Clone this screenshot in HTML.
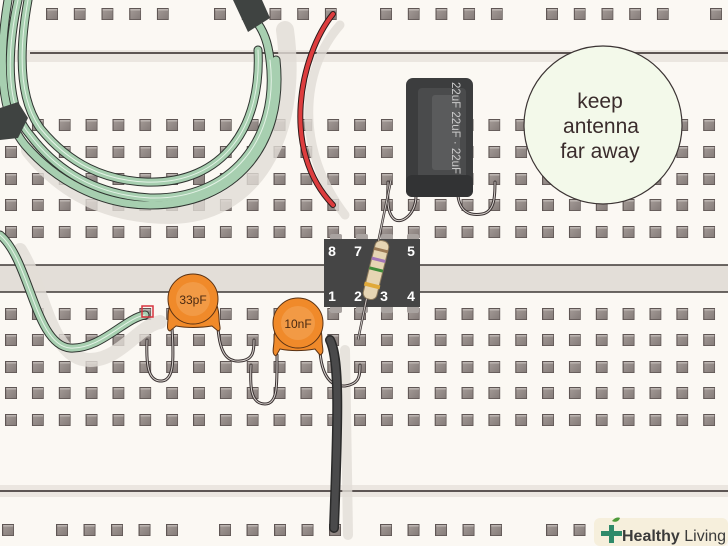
<!DOCTYPE html>
<html><head><meta charset="utf-8"><style>
html,body{margin:0;padding:0;background:#fbf8f3;}
svg{display:block;}
</style></head><body>
<svg id="s" width="728" height="546" viewBox="0 0 728 546" xmlns="http://www.w3.org/2000/svg">
<defs>
<linearGradient id="hg" x1="0" y1="0" x2="1" y2="1"><stop offset="0" stop-color="#a39a96"/><stop offset="1" stop-color="#857c79"/></linearGradient>
<symbol id="h" viewBox="0 0 12 12"><rect x="0" y="0" width="12" height="12" fill="#5f5654"/><rect x="1.2" y="1.2" width="10" height="10" fill="url(#hg)"/><rect x="1.2" y="1.2" width="10" height="1.2" fill="#c9c2be"/></symbol>
</defs>
<rect width="728" height="546" fill="#fbf8f3"/>
<rect x="0" y="50" width="728" height="12" fill="#ebe6e0"/>
<line x1="30" y1="53" x2="728" y2="53" stroke="#5d5553" stroke-width="2"/>
<rect x="0" y="265" width="728" height="27" fill="#e3ded8"/>
<line x1="0" y1="265" x2="728" y2="265" stroke="#3e3836" stroke-width="1.5"/>
<line x1="0" y1="292" x2="728" y2="292" stroke="#3e3836" stroke-width="1.5"/>
<rect x="0" y="485" width="728" height="12" fill="#ebe6e0"/>
<line x1="0" y1="491" x2="728" y2="491" stroke="#5d5553" stroke-width="2"/>
<g id="holes"></g>

<g fill="none" stroke="#e2ddd7" stroke-linecap="round" opacity="0.8">
<path d="M30,150 C70,200 120,215 170,215 C250,215 300,140 285,30" stroke-width="18"/>
<path d="M20,250 C45,290 50,360 90,360 C120,360 140,325 160,322" stroke-width="14"/>
<path d="M340,25 C300,70 295,150 345,215" stroke-width="9"/>
<path d="M345,350 L348,535" stroke-width="10"/>
</g>

<g fill="none" stroke-linecap="round">
<g stroke="#2f3430" stroke-width="9">
<path d="M18,0 C5,60 8,110 30,135 C60,175 100,195 150,198 C230,200 280,140 270,60 C268,40 262,28 255,20"/>
<path d="M8,0 C-2,60 0,115 25,145 C55,180 100,205 150,205 C235,205 285,145 276,60"/>
<path d="M28,0 C18,55 20,100 40,128 C70,165 105,180 145,182 C225,185 262,125 258,50"/>
<path d="M0,235 C30,260 35,345 70,348 C100,350 125,318 145,315"/>
</g>
<g stroke="#a7cfb0" stroke-width="7">
<path d="M18,0 C5,60 8,110 30,135 C60,175 100,195 150,198 C230,200 280,140 270,60 C268,40 262,28 255,20"/>
<path d="M8,0 C-2,60 0,115 25,145 C55,180 100,205 150,205 C235,205 285,145 276,60"/>
<path d="M28,0 C18,55 20,100 40,128 C70,165 105,180 145,182 C225,185 262,125 258,50"/>
<path d="M0,235 C30,260 35,345 70,348 C100,350 125,318 145,315"/>
</g>
<g stroke="#e4f2e6" stroke-width="1">
<path d="M18,0 C5,60 8,110 30,135 C60,175 100,195 150,198 C230,200 280,140 270,60"/>
<path d="M28,0 C18,55 20,100 40,128 C70,165 105,180 145,182 C225,185 262,125 258,50"/>
<path d="M0,235 C30,260 35,345 70,348 C100,350 125,318 145,315"/>
</g>
</g>
<rect x="142" y="306" width="11" height="11" fill="none" stroke="#d8343f" stroke-width="1.5"/>
<path d="M233,0 L262,0 L270,18 L248,32 Z" fill="#3f4341"/>
<path d="M0,108 L18,102 L28,118 L18,138 L0,140 Z" fill="#3f4341"/>

<path d="M333,14 C300,55 280,150 333,205" fill="none" stroke="#2d1a1a" stroke-width="6" stroke-linecap="round"/>
<path d="M333,14 C300,55 280,150 333,205" fill="none" stroke="#dd3d3e" stroke-width="4" stroke-linecap="round"/>

<g fill="none" stroke="#3a3232" stroke-width="3" stroke-linecap="round">
<path d="M416,196 C416,215 400,226 393,218 C386,210 388,195 388,182"/>
<path d="M458,196 C460,212 470,216 482,214 C495,212 495,195 495,182"/>
</g>
<g fill="none" stroke="#d9d3cf" stroke-width="1" stroke-linecap="round">
<path d="M416,196 C416,215 400,226 393,218 C386,210 388,195 388,182"/>
<path d="M458,196 C460,212 470,216 482,214 C495,212 495,195 495,182"/>
</g>
<rect x="406" y="78" width="67" height="119" rx="7" fill="#3c3d3e"/>
<rect x="418" y="88" width="48" height="96" rx="4" fill="#4a4b4c"/>
<rect x="432" y="95" width="28" height="75" rx="3" fill="#5a5b5c"/>
<rect x="406" y="175" width="67" height="22" rx="6" fill="#323334"/>
<text transform="translate(452,82) rotate(90)" font-family="Liberation Sans, sans-serif" font-size="11.5" fill="#c9c9c9">22uF  22uF  ·  22uF</text>

<circle cx="603" cy="125" r="79" fill="#f3f9ea" stroke="#3b3333" stroke-width="1.2"/>
<g font-family="Liberation Sans, sans-serif" font-size="21" fill="#3a2c2c" text-anchor="middle">
<text x="600" y="108">keep</text>
<text x="601" y="133">antenna</text>
<text x="600" y="158">far away</text>
</g>

<g fill="#a9a3a0"><rect x="330" y="234" width="12" height="8" rx="2"/><rect x="356" y="234" width="12" height="8" rx="2"/><rect x="381" y="234" width="12" height="8" rx="2"/><rect x="407" y="234" width="12" height="8" rx="2"/>
<rect x="330" y="304" width="12" height="9" rx="2"/><rect x="356" y="304" width="12" height="9" rx="2"/><rect x="381" y="304" width="12" height="9" rx="2"/><rect x="407" y="304" width="12" height="9" rx="2"/></g>
<rect x="324" y="239" width="96" height="68" fill="#454545"/>
<g font-family="Liberation Sans, sans-serif" font-size="14" font-weight="bold" fill="#ffffff" text-anchor="middle">
<text x="332" y="256">8</text><text x="358" y="256">7</text><text x="384" y="256">6</text><text x="411" y="256">5</text>
<text x="332" y="301">1</text><text x="358" y="301">2</text><text x="384" y="301">3</text><text x="411" y="301">4</text>
</g>

<path d="M358,340 L391,180" stroke="#3a3232" stroke-width="2.5"/>
<path d="M358,340 L391,180" stroke="#cfcac6" stroke-width="1"/>
<g transform="translate(376,270) rotate(14)">
<rect x="-7" y="-30" width="14" height="60" rx="6" fill="#e6d5b3" stroke="#8d7a5c" stroke-width="1"/>
<rect x="-7" y="-22" width="14" height="3" fill="#9c7a55"/>
<rect x="-7" y="-12" width="14" height="3" fill="#a275b8"/>
<rect x="-7" y="-2" width="14" height="3" fill="#3f8c3a"/>
<rect x="-8" y="14" width="16" height="4" fill="#e0a93a"/>
</g>

<g fill="none" stroke="#3a3232" stroke-width="3" stroke-linecap="round">
<path d="M172,328 C174,360 174,380 162,381 C148,382 146,365 147,340"/>
<path d="M218,328 C220,355 228,362 240,361 C254,360 254,350 254,340"/>
<path d="M277,355 C277,385 278,404 265,404 C250,404 250,385 251,365"/>
<path d="M320,352 C322,375 330,387 345,386 C360,384 360,375 360,365"/>
</g>
<g fill="none" stroke="#d9d3cf" stroke-width="1" stroke-linecap="round">
<path d="M172,328 C174,360 174,380 162,381 C148,382 146,365 147,340"/>
<path d="M218,328 C220,355 228,362 240,361 C254,360 254,350 254,340"/>
<path d="M277,355 C277,385 278,404 265,404 C250,404 250,385 251,365"/>
<path d="M320,352 C322,375 330,387 345,386 C360,384 360,375 360,365"/>
</g>
<g stroke="#5a3214" stroke-width="1">
<path d="M168,318 C168,276 218,276 219,318 C219,326 222,330 218,331 L212,326 C200,328 186,328 176,326 L170,331 C166,330 168,324 168,318 Z" fill="#f08a2a"/>
<circle cx="193" cy="299" r="25" fill="#f08a2a"/>
<path d="M274,340 C274,300 322,300 322,340 C322,348 325,353 320,355 L315,349 C303,351 290,351 280,349 L276,356 C271,354 274,347 274,340 Z" fill="#f08a2a"/>
<circle cx="298" cy="323" r="25" fill="#f08a2a"/>
</g>
<circle cx="193" cy="299" r="17" fill="#f29a45"/>
<circle cx="298" cy="323" r="17" fill="#f29a45"/>
<text x="193" y="304" font-family="Liberation Sans, sans-serif" font-size="12" fill="#4a2a12" text-anchor="middle">33pF</text>
<text x="298" y="328" font-family="Liberation Sans, sans-serif" font-size="12" fill="#4a2a12" text-anchor="middle">10nF</text>

<path d="M330,340 C340,360 338,420 334,528" fill="none" stroke="#2a2a2a" stroke-width="10" stroke-linecap="round"/>
<path d="M330,340 C340,360 338,420 334,528" fill="none" stroke="#4a4a4b" stroke-width="7" stroke-linecap="round"/>

<rect x="594" y="518" width="134" height="28" rx="6" fill="#f6efdc"/>
<path d="M601,531 h8 v-6 h5 v6 h8 v5 h-8 v7 h-5 v-7 h-8 z" fill="#2f8a6a"/>
<path d="M612,521 c3,-4 7,-4 8,-3 c-1,3 -4,5 -8,3 z" fill="#4d9a3a"/>
<text x="622" y="541" font-family="Liberation Sans, sans-serif" font-size="16" fill="#3b3b3b"><tspan font-weight="bold">Healthy</tspan> Living</text>
</svg>
<script>
(function(){
var g=document.getElementById('holes'),ns='http://www.w3.org/2000/svg';
function H(x,y){var u=document.createElementNS(ns,'use');u.setAttribute('href','#h');u.setAttribute('x',x-6);u.setAttribute('y',y-6);u.setAttribute('width',12);u.setAttribute('height',12);g.appendChild(u);}
var rows=[125,152,179,205,232,314,340,367,393,420];
for(var r=0;r<rows.length;r++)for(var i=0;i<27;i++)H(11+i*26.85,rows[r]);
var top=[52,220,386,552,716];
for(var k=0;k<top.length;k++)for(var j=0;j<5;j++){var x=top[k]+j*27.7;if(x<740)H(x,14);}
H(8,530);
var bot=[62,225,386,552];
for(k=0;k<bot.length;k++)for(j=0;j<5;j++){x=bot[k]+j*27.5;if(x<600)H(x,530);}
})();
</script>
</body></html>
